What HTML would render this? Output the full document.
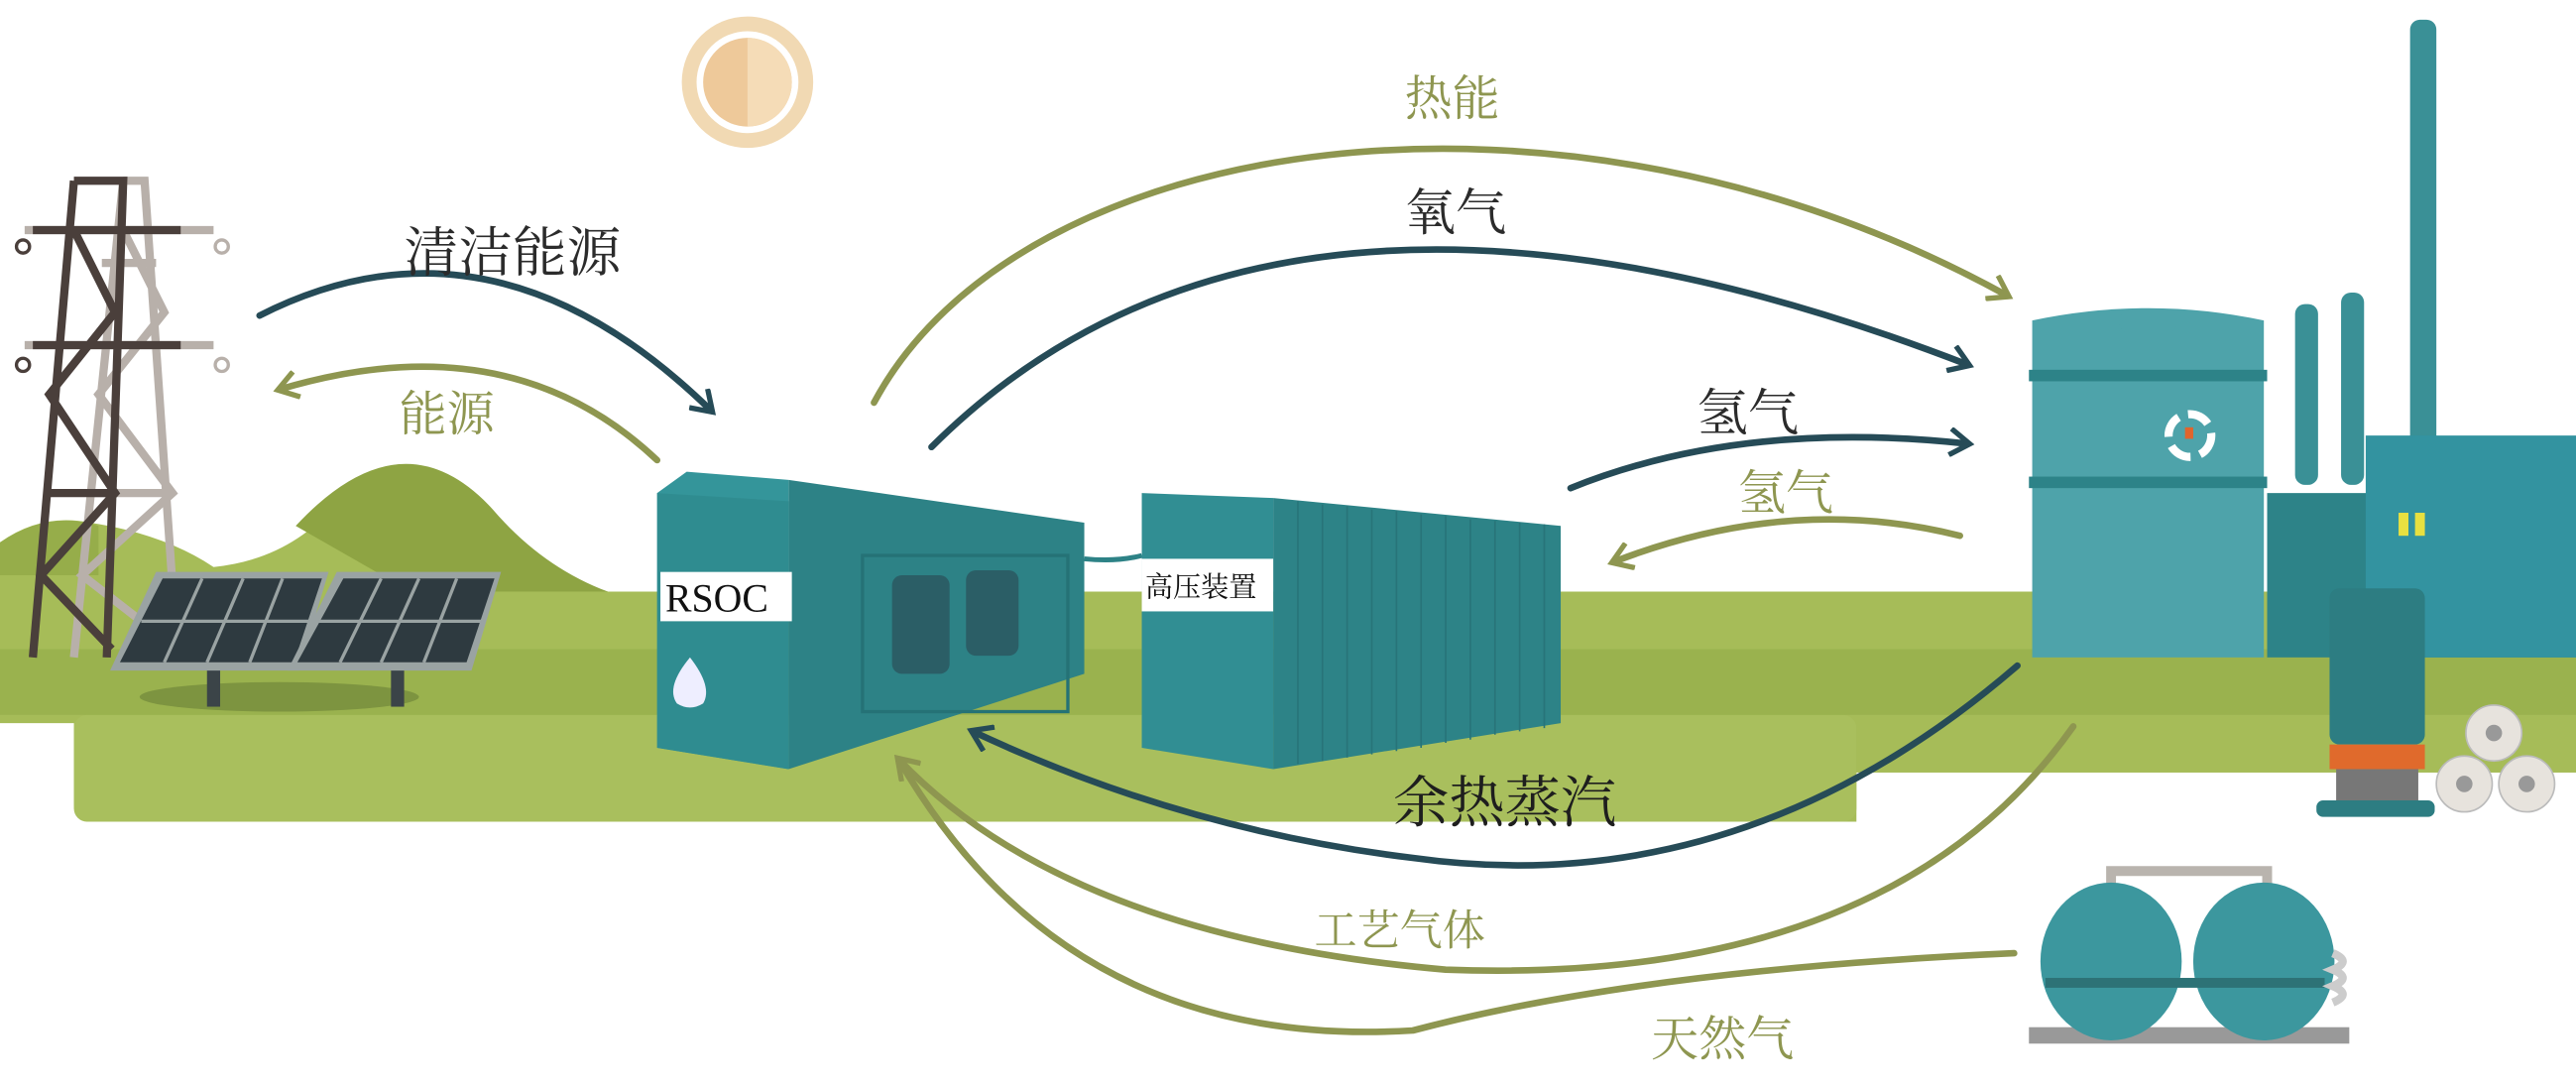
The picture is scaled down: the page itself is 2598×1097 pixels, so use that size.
<!DOCTYPE html>
<html><head><meta charset="utf-8"><style>
html,body{margin:0;padding:0;background:#fff;}
svg{display:block;}
text{font-family:"Liberation Serif","Noto Serif CJK SC",serif;}
</style></head><body>
<svg width="2598" height="1097" viewBox="0 0 1568 662" preserveAspectRatio="none" xmlns="http://www.w3.org/2000/svg">
<defs>
<marker id="ad" markerWidth="16" markerHeight="18" refX="12" refY="9" orient="auto" markerUnits="userSpaceOnUse" viewBox="0 0 16 18"><path d="M1,1 L13,9 L1,17" fill="none" stroke="#264b57" stroke-width="3.2"/></marker>
<marker id="ao" markerWidth="16" markerHeight="18" refX="12" refY="9" orient="auto" markerUnits="userSpaceOnUse" viewBox="0 0 16 18"><path d="M1,1 L13,9 L1,17" fill="none" stroke="#8e9650" stroke-width="3.2"/></marker>
</defs>
<rect width="1568" height="662" fill="#fff"/>
<!-- sun -->
<circle cx="455" cy="50" r="40" fill="#f1d9b3"/>
<circle cx="455" cy="50" r="31" fill="#fff"/>
<circle cx="455" cy="50" r="27" fill="#eec99a"/>
<path d="M455,23 A27,27 0 0 1 455,77 Z" fill="#f5dcb7"/>
<!-- ground -->
<path d="M0,330 Q25,312 55,318 Q100,325 130,345 Q180,340 210,300 Q245,265 280,300 Q320,345 370,360 L1568,360 L1568,470 L1130,470 L1130,500 L55,500 Q45,500 45,490 L45,440 L0,440 Z" fill="#a6bc58"/>
<path d="M180,320 Q245,250 300,310 Q330,345 370,360 L250,360 Z" fill="#8ea443"/>
<path d="M0,330 Q30,310 60,320 L60,350 L0,350Z" fill="#96ad4a"/>
<rect x="0" y="395" width="1568" height="40" fill="#9ab24e"/>
<rect x="45" y="435" width="1085" height="65" rx="8" fill="#a9bf5d"/>
<rect x="1130" y="440" width="438" height="30" fill="#a6bc58"/>
<ellipse cx="170" cy="424" rx="85" ry="9" fill="#7d9440"/>
<!-- tower -->
<g stroke-width="5" fill="none">
<path d="M75,110 L88,110 L108,400 M75,110 L45,400 M55,300 L100,300 M60,210 L98,210 M62,160 L95,160 M15,140 L130,140 M15,210 L130,210 M75,140 L100,190 L60,240 L105,300 L50,350 L108,395" stroke="#b8b0aa"/>
<path d="M45,110 L75,110 L65,400 M45,110 L20,400 M20,140 L110,140 M20,210 L110,210 M30,300 L70,300 M45,140 L70,190 L30,240 L70,300 L25,350 L68,395" stroke="#4a3f3b"/>
</g>
<circle cx="14" cy="150" r="4" fill="none" stroke="#4a3f3b" stroke-width="2"/>
<circle cx="14" cy="222" r="4" fill="none" stroke="#4a3f3b" stroke-width="2"/>
<circle cx="135" cy="150" r="4" fill="none" stroke="#b8b0aa" stroke-width="2"/>
<circle cx="135" cy="222" r="4" fill="none" stroke="#b8b0aa" stroke-width="2"/>
<!-- solar panels -->
<rect x="126" y="400" width="8" height="30" fill="#3b4448"/>
<rect x="238" y="400" width="8" height="30" fill="#3b4448"/>
<path d="M95,348 L200,348 L182,408 L67,408Z" fill="#9aa3a3"/>
<path d="M99,352 L196,352 L179,403 L73,403Z" fill="#2e3a40"/>
<path d="M205,348 L305,348 L287,408 L175,408Z" fill="#9aa3a3"/>
<path d="M209,352 L301,352 L284,403 L181,403Z" fill="#2e3a40"/>
<g stroke="#9aa3a3" stroke-width="2"><path d="M86,378 L188,378 M123,352 L100,403 M148,352 L126,403 M172,352 L152,403 M194,378 L293,378 M232,352 L207,403 M255,352 L232,403 M278,352 L258,403"/></g>
<!-- RSOC container -->
<path d="M480,292 L660,318 L660,410 L480,468Z" fill="#2d8286"/>
<path d="M400,300 L418,287 L480,292 L480,468 L400,455Z" fill="#34959a"/>
<path d="M400,300 L480,305 L480,468 L400,455Z" fill="#2f8c90"/>
<rect x="525" y="338" width="125" height="95" fill="none" stroke="#257276" stroke-width="2"/>
<rect x="543" y="350" width="35" height="60" rx="6" fill="#2b5e66"/>
<rect x="588" y="347" width="32" height="52" rx="6" fill="#2b5e66"/>
<rect x="402" y="348" width="80" height="30" fill="#fff"/>
<text x="405" y="372" font-size="24" fill="#111">RSOC</text>
<path d="M420,400 Q405,418 412,428 Q420,433 428,428 Q434,418 420,400Z" fill="#eef"/>
<path d="M660,340 Q680,342 695,338" stroke="#2d8286" stroke-width="3" fill="none"/>
<!-- high pressure container -->
<path d="M775,303 L950,320 L950,440 L775,468Z" fill="#2d8387"/>
<path d="M695,300 L775,303 L775,468 L695,455Z" fill="#318e93"/>
<g stroke="#287479" stroke-width="1"><path d="M790,305 V465 M805,307 V463 M820,308 V461 M835,310 V459 M850,311 V457 M865,313 V455 M880,314 V452 M895,316 V450 M910,317 V447 M925,318 V445 M940,319 V443"/></g>
<rect x="695" y="340" width="80" height="32" fill="#fff"/>
<text x="697" y="363" font-size="17" fill="#111">高压装置</text>
<!-- factory -->
<rect x="1397" y="185" width="14" height="110" rx="6" fill="#3a9096"/>
<rect x="1425" y="178" width="14" height="117" rx="6" fill="#3a9096"/>
<rect x="1467" y="12" width="16" height="285" rx="6" fill="#3a9096"/>
<rect x="1380" y="300" width="188" height="100" fill="#2d8388"/>
<rect x="1440" y="265" width="128" height="135" fill="#3393a0"/>
<rect x="1460" y="312" width="6" height="14" fill="#e8e040"/>
<rect x="1470" y="312" width="6" height="14" fill="#e8e040"/>
<path d="M1237,195 Q1308,180 1378,195 L1378,400 L1237,400Z" fill="#4ea3aa"/>
<rect x="1290" y="190" width="35" height="12" rx="5" fill="#4ea3aa"/>
<rect x="1235" y="225" width="145" height="7" fill="#2d8388"/>
<rect x="1235" y="290" width="145" height="7" fill="#2d8388"/>
<circle cx="1333" cy="265" r="13" fill="none" stroke="#fff" stroke-width="5" stroke-dasharray="14 6"/>
<rect x="1330" y="260" width="5" height="7" fill="#e0642c"/>
<rect x="1418" y="358" width="58" height="95" rx="6" fill="#2d7d82"/>
<rect x="1418" y="453" width="58" height="15" fill="#e06a2c"/>
<rect x="1422" y="468" width="50" height="20" fill="#777"/>
<rect x="1410" y="487" width="72" height="10" rx="4" fill="#2d7d82"/>
<g fill="#e7e3dd" stroke="#bbb"><circle cx="1518" cy="446" r="17"/><circle cx="1500" cy="477" r="17"/><circle cx="1538" cy="477" r="17"/></g>
<g fill="#999"><circle cx="1518" cy="446" r="5"/><circle cx="1500" cy="477" r="5"/><circle cx="1538" cy="477" r="5"/></g>
<!-- tanks -->
<path d="M1285,545 V530 H1380 V545" stroke="#b9b4ae" stroke-width="6" fill="none"/>
<rect x="1235" y="625" width="195" height="10" fill="#999"/>
<g fill="#3c979e"><ellipse cx="1285" cy="585" rx="43" ry="48"/><ellipse cx="1378" cy="585" rx="43" ry="48"/></g>
<rect x="1245" y="595" width="170" height="6" fill="#2d7276"/>
<path d="M1420,580 q12,5 0,10 q12,5 0,10 q12,5 0,10" stroke="#ccc" stroke-width="5" fill="none"/>
<!-- arrows -->
<g fill="none" stroke-width="4" stroke-linecap="round">
<path d="M158,192 Q300,120 433,250" stroke="#264b57" marker-end="url(#ad)"/>
<path d="M400,280 Q310,195 170,237" stroke="#8e9650" marker-end="url(#ao)"/>
<path d="M532,245 C620,80 950,30 1222,180" stroke="#8e9650" marker-end="url(#ao)"/>
<path d="M567,272 Q780,60 1198,222" stroke="#264b57" marker-end="url(#ad)"/>
<path d="M956,297 Q1060,255 1198,270" stroke="#264b57" marker-end="url(#ad)"/>
<path d="M1193,326 Q1090,300 982,342" stroke="#8e9650" marker-end="url(#ao)"/>
<path d="M1228,405 Q1060,550 860,522 Q720,505 592,445" stroke="#264b57" marker-end="url(#ad)"/>
<path d="M1262,442 Q1150,600 880,590 Q650,570 547,462" stroke="#8e9650" marker-end="url(#ao)"/>
<path d="M1226,580 Q1000,590 860,627 Q650,640 547,462" stroke="#8e9650"/>
</g>
<text x="246" y="165" font-size="33" fill="#2b2b2b">清洁能源</text>
<text x="243" y="262" font-size="29" fill="#8e9650">能源</text>
<text x="855" y="70" font-size="29" fill="#8e9650">热能</text>
<text x="855" y="140" font-size="31" fill="#2b2b2b">氧气</text>
<text x="1033" y="262" font-size="31" fill="#2b2b2b">氢气</text>
<text x="1058" y="310" font-size="29" fill="#8e9650">氢气</text>
<text x="848" y="500" font-size="34" fill="#1e1e1e">余热蒸汽</text>
<text x="800" y="575" font-size="26" fill="#8e9650">工艺气体</text>
<text x="1005" y="642" font-size="29" fill="#8e9650">天然气</text>
</svg>
</body></html>
